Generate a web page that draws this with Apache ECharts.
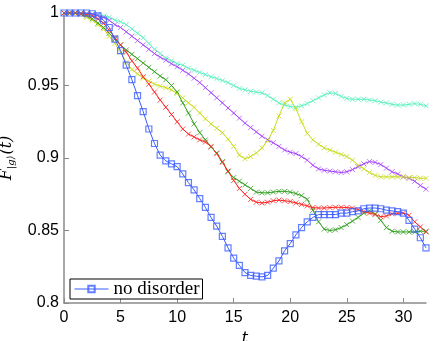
<!DOCTYPE html>
<html>
<head>
<meta charset="utf-8">
<script src="https://cdn.jsdelivr.net/npm/echarts@6/dist/echarts.min.js"></script>
<style>
    html, body {margin: 0; padding: 0; background: #fff;}
    #chart {width: 436px; height: 341px;}
</style>
</head>
<body>
<div id="chart"></div>
<script>
// time grid: t = 0, 0.5, ... 32
var dt = 0.5;
var xTicks = [0, 5, 10, 15, 20, 25, 30];
var yTicks = [0.8, 0.85, 0.9, 0.95, 1];

var blueData = [1, 1, 1, 1, 1, 0.9995, 0.998, 0.995, 0.990, 0.982, 0.974, 0.964, 0.954, 0.943, 0.932, 0.920,
    0.910, 0.902, 0.898, 0.896, 0.894, 0.889, 0.883, 0.878, 0.872, 0.866, 0.859, 0.853, 0.846, 0.838, 0.831,
    0.826, 0.821, 0.819, 0.8185, 0.818, 0.819, 0.824, 0.829, 0.836, 0.841, 0.847, 0.852, 0.856, 0.859, 0.861,
    0.861, 0.861, 0.861, 0.862, 0.862, 0.863, 0.8635, 0.865, 0.8655, 0.8655, 0.865, 0.864, 0.8635, 0.863,
    0.862, 0.857, 0.851, 0.845, 0.838];
var cyanData = [1, 1, 1, 1, 0.9998, 0.9995, 0.999, 0.998, 0.997, 0.995, 0.994, 0.992, 0.989, 0.986, 0.983,
    0.979, 0.975, 0.972, 0.969, 0.967, 0.965, 0.964, 0.962, 0.9605, 0.959, 0.9575, 0.956, 0.9548, 0.9535,
    0.952, 0.950, 0.948, 0.947, 0.946, 0.9455, 0.945, 0.943, 0.9405, 0.938, 0.9365, 0.9355, 0.935, 0.936,
    0.9375, 0.9395, 0.9415, 0.9435, 0.945, 0.9445, 0.9425, 0.941, 0.9405, 0.9405, 0.9405, 0.940, 0.9395,
    0.9385, 0.938, 0.937, 0.9365, 0.9365, 0.937, 0.9375, 0.937, 0.936];
var purpleData = [1, 1, 1, 0.9998, 0.9995, 0.999, 0.9985, 0.997, 0.995, 0.992, 0.990, 0.987, 0.984, 0.981,
    0.978, 0.975, 0.972, 0.9695, 0.9675, 0.965, 0.963, 0.9605, 0.958, 0.955, 0.952, 0.9485, 0.945, 0.9415,
    0.938, 0.9345, 0.931, 0.9275, 0.924, 0.921, 0.918, 0.915, 0.9125, 0.9105, 0.908, 0.9055, 0.904, 0.903,
    0.901, 0.8985, 0.895, 0.8925, 0.8915, 0.891, 0.8905, 0.890, 0.8905, 0.892, 0.894, 0.896, 0.8975, 0.897,
    0.8955, 0.893, 0.8905, 0.889, 0.887, 0.886, 0.884, 0.881, 0.8785];
var yellowData = [1, 1, 0.9998, 0.999, 0.997, 0.995, 0.992, 0.989, 0.984, 0.979, 0.973, 0.966, 0.961, 0.958,
    0.955, 0.953, 0.951, 0.9495, 0.9485, 0.947, 0.9445, 0.9415, 0.938, 0.935, 0.931, 0.927, 0.9235, 0.9205,
    0.9175, 0.913, 0.908, 0.902, 0.8995, 0.901, 0.9035, 0.907, 0.912, 0.919, 0.929, 0.938, 0.9405, 0.934,
    0.925, 0.917, 0.9125, 0.9095, 0.907, 0.9055, 0.904, 0.9025, 0.901, 0.8985, 0.895, 0.8925, 0.890, 0.888,
    0.887, 0.887, 0.887, 0.887, 0.887, 0.8865, 0.8865, 0.886, 0.886];
var greenData = [1, 1, 1, 0.9995, 0.998, 0.996, 0.993, 0.990, 0.986, 0.982, 0.978, 0.9745, 0.9715, 0.9685,
    0.9655, 0.9625, 0.9595, 0.9565, 0.954, 0.950, 0.9455, 0.938, 0.931, 0.9235, 0.9175, 0.9125, 0.9075,
    0.9035, 0.8975, 0.8905, 0.8865, 0.884, 0.8815, 0.879, 0.8765, 0.876, 0.876, 0.8765, 0.877, 0.877,
    0.8765, 0.8755, 0.874, 0.8715, 0.864, 0.856, 0.851, 0.850, 0.8505, 0.852, 0.854, 0.8565, 0.859, 0.862,
    0.8635, 0.8615, 0.857, 0.852, 0.8495, 0.849, 0.849, 0.849, 0.849, 0.8495, 0.8495];
var redData = [1, 1, 1, 0.9995, 0.999, 0.998, 0.996, 0.993, 0.988, 0.983, 0.978, 0.973, 0.967, 0.962, 0.956,
    0.951, 0.9455, 0.940, 0.935, 0.930, 0.925, 0.920, 0.9165, 0.9145, 0.9125, 0.911, 0.908, 0.903, 0.897,
    0.891, 0.8845, 0.879, 0.875, 0.8715, 0.8695, 0.869, 0.8695, 0.8705, 0.871, 0.8705, 0.870, 0.869, 0.868,
    0.867, 0.8658, 0.8655, 0.8655, 0.8658, 0.866, 0.866, 0.8658, 0.8655, 0.8645, 0.863, 0.862, 0.861,
    0.8595, 0.860, 0.8615, 0.862, 0.862, 0.8605, 0.856, 0.8525, 0.849];

function pairs(arr) {
    var out = [];
    for (var i = 0; i < arr.length; i++) {
        out.push([i * dt, arr[i]]);
    }
    return out;
}

var crossPath = 'path://M0,0L10,10M10,0L0,10';

function crossSeries(name, color, markColor, data) {
    return {
        name: name,
        type: 'line',
        data: pairs(data),
        symbol: crossPath,
        symbolSize: 5,
        showSymbol: true,
        z: 2,
        lineStyle: {color: color, width: 1},
        itemStyle: {color: 'rgba(0,0,0,0)', borderColor: markColor, borderWidth: 1},
        emphasis: {disabled: true}
    };
}

var chart = echarts.init(document.getElementById('chart'));
var option = {
    animation: false,
    backgroundColor: '#fff',
    grid: {left: 64, right: 10, top: 13, bottom: 38, outerBoundsMode: 'none', containLabel: false},
    legend: {
        data: ['no disorder'],
        left: 70,
        top: 279,
        padding: [0, 3, 0, 4],
        itemWidth: 34,
        itemHeight: 8,
        itemGap: 4,
        borderColor: '#000',
        borderWidth: 1,
        backgroundColor: '#fff',
        lineStyle: {width: 1},
        textStyle: {fontFamily: 'Liberation Serif', fontSize: 19, lineHeight: 20, color: '#000'}
    },
    xAxis: {
        type: 'value',
        min: 0,
        max: 32,
        interval: 5,
        name: 't',
        nameLocation: 'middle',
        nameGap: 26,
        nameTextStyle: {fontFamily: 'DejaVu Serif', fontStyle: 'italic', fontSize: 16, color: '#000'},
        splitLine: {show: false},
        axisLine: {lineStyle: {color: '#8a8a8a', width: 1.5}},
        axisTick: {inside: true, length: 5, customValues: xTicks, lineStyle: {color: '#8a8a8a'}},
        axisLabel: {customValues: xTicks, margin: 7, fontFamily: 'Liberation Sans', fontSize: 16, color: '#000'}
    },
    yAxis: {
        type: 'value',
        min: 0.8,
        max: 1,
        interval: 0.05,
        name: '{i|F}{s||g\u27E9}{i|(t)}',
        nameLocation: 'middle',
        nameRotate: 90,
        nameGap: 48,
        nameTextStyle: {
            color: '#000',
            rich: {
                i: {fontFamily: 'DejaVu Serif', fontStyle: 'italic', fontSize: 16, color: '#000'},
                s: {fontFamily: 'DejaVu Serif', fontStyle: 'italic', fontSize: 10, color: '#000', padding: [8, 1, 0, 0]}
            }
        },
        splitLine: {show: false},
        axisLine: {lineStyle: {color: '#8a8a8a', width: 1.5}},
        axisTick: {inside: true, length: 5, lineStyle: {color: '#8a8a8a'}},
        axisLabel: {
            margin: 5,
            fontFamily: 'Liberation Sans',
            fontSize: 16,
            color: '#000',
            formatter: function (v) {
                return String(Math.round(v * 100) / 100);
            }
        }
    },
    series: [
        crossSeries('cyan', '#5ef2c2', 'rgba(90,240,190,0.8)', cyanData),
        crossSeries('purple', '#a23cff', 'rgba(165,70,255,0.75)', purpleData),
        crossSeries('yellow', '#c8dc18', 'rgba(200,220,30,0.8)', yellowData),
        crossSeries('green', '#2e9e1c', 'rgba(50,160,30,0.8)', greenData),
        crossSeries('red', '#ff1e1e', 'rgba(255,40,40,0.8)', redData),
        {
            name: 'no disorder',
            type: 'line',
            data: pairs(blueData),
            symbol: 'rect',
            symbolSize: 6,
            showSymbol: true,
            z: 3,
            lineStyle: {color: '#3a5cff', width: 1},
            itemStyle: {color: 'rgba(0,0,0,0)', borderColor: 'rgba(60,95,255,0.8)', borderWidth: 1.2},
            emphasis: {disabled: true}
        }
    ]
};
chart.setOption(option);
</script>
</body>
</html>
